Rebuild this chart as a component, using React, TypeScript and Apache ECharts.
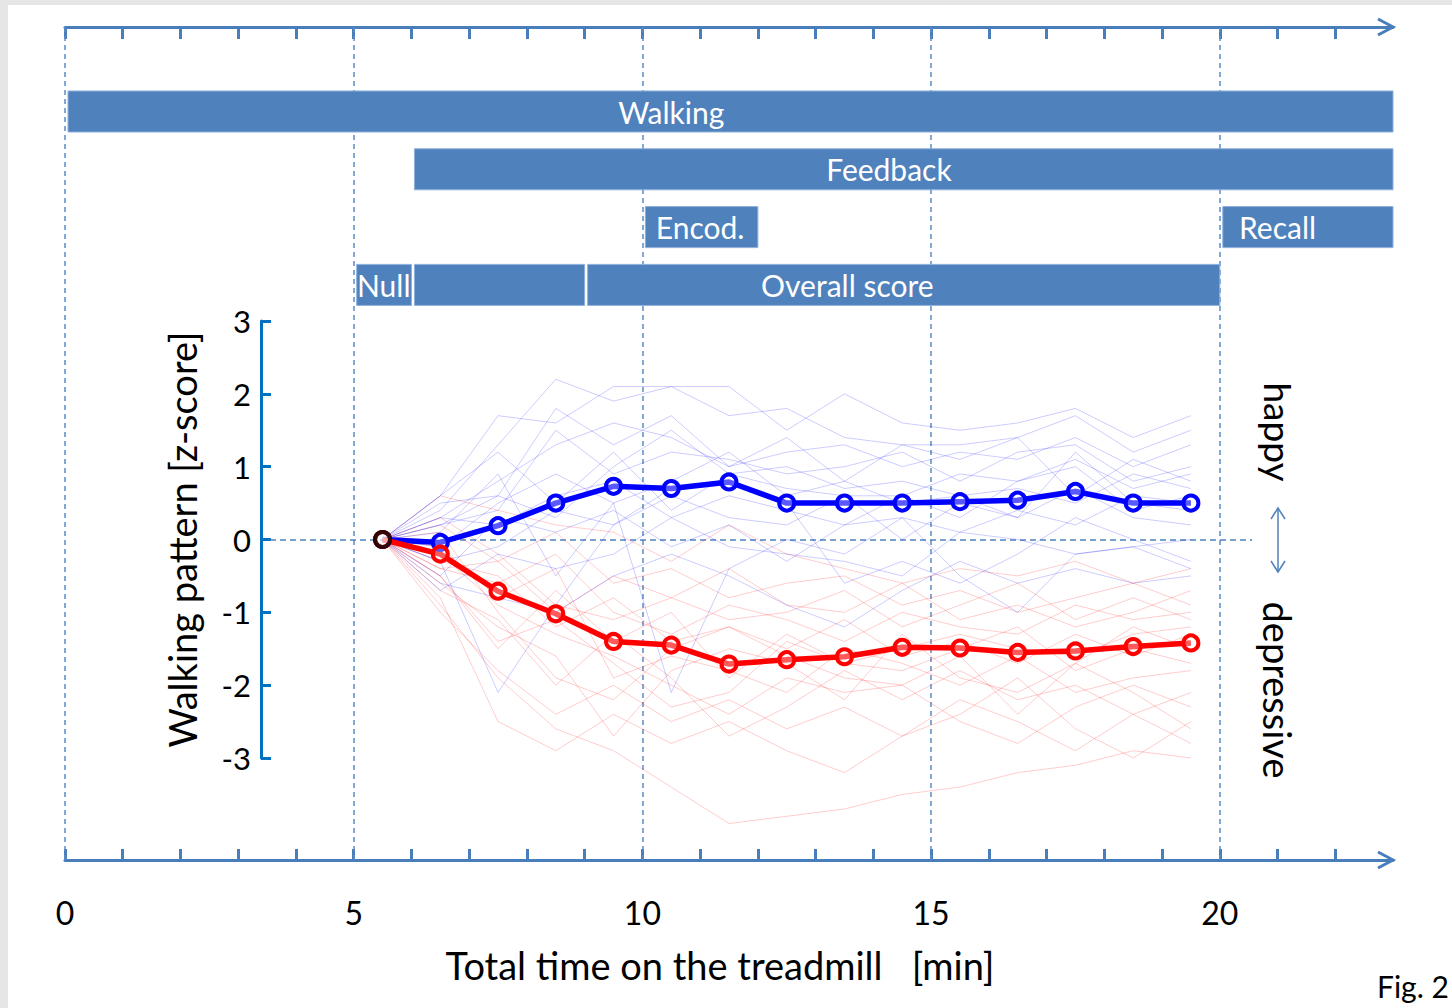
import React, { useEffect, useRef } from 'react';
import * as echarts from 'echarts';

const FONT = 'Lato, "Open Sans", sans-serif';
const AX = '#4a7ebb';
const YAX = '#0070c0';

// time points (minutes) of the z-score samples
const times = [5.5, 6.5, 7.5, 8.5, 9.5, 10.5, 11.5, 12.5, 13.5, 14.5, 15.5, 16.5, 17.5, 18.5, 19.5];

// group means
const blueMean = [0, -0.04, 0.19, 0.5, 0.73, 0.7, 0.79, 0.5, 0.5, 0.5, 0.52, 0.54, 0.66, 0.5, 0.5];
const redMean = [0, -0.2, -0.71, -1.02, -1.4, -1.45, -1.71, -1.65, -1.61, -1.48, -1.49, -1.55, -1.53, -1.47, -1.42];

// individual subjects (happy condition)
const blueSubjects = [
  [0, 0.4, 1.3, 2.2, 1.9, 2.1, 2.1, 1.5, 2.0, 1.6, 1.5, 1.6, 1.8, 1.4, 1.7],
  [0, 0.6, 1.7, 1.6, 2.1, 2.1, 1.7, 1.8, 1.4, 1.3, 1.3, 1.4, 1.7, 1.2, 1.5],
  [0, 0.3, 0.8, 1.3, 1.6, 1.4, 1.0, 1.2, 1.3, 1.0, 1.2, 1.1, 1.4, 1.0, 1.3],
  [0, 0.2, 0.4, 1.5, 0.9, 1.2, 1.1, 0.9, 1.0, 1.2, 0.8, 1.2, 1.3, 0.8, 1.0],
  [0, 0.5, 0.6, 0.3, 1.0, 1.5, 0.9, 0.7, 0.6, 0.6, 0.9, 0.8, 1.1, 0.7, 0.9],
  [0, -0.1, 0.5, 0.9, 0.5, 0.8, 1.2, 0.6, 0.8, 0.5, 0.6, 0.7, 0.5, 0.9, 0.7],
  [0, 0.3, 0.2, 0.6, 0.8, 0.3, 0.6, 0.4, 0.2, 0.6, 0.3, 0.8, 1.0, 0.4, 0.6],
  [0, -0.3, -0.1, 0.4, 0.2, 0.6, 0.3, 0.2, 0.6, 0.0, 0.5, 0.3, 0.7, 0.3, 0.2],
  [0, -0.5, 0.3, 0.1, 0.4, -0.1, 0.2, -0.3, 0.2, 0.3, 0.1, 0.4, 0.2, 0.6, 0.5],
  [0, -0.7, -0.2, -0.4, -0.2, 0.3, -0.1, -0.2, -0.3, -0.5, 0.1, 0.0, -0.2, -0.1, 0.0],
  [0, -0.3, -2.1, -0.9, 0.2, 0.7, 0.8, 0.5, -0.6, -0.3, -0.6, -0.2, 0.3, 0.0, -0.3],
  [0, 0.1, 0.9, -0.5, 0.5, -2.1, -0.4, 0.0, -0.2, 0.3, -0.5, -1.0, -0.2, -0.1, -0.4],
  [0, -0.6, -0.8, -1.0, -0.5, -0.2, -0.5, -0.9, -1.2, -0.7, -0.3, -0.6, -0.4, -0.6, -0.5],
  [0, 0.6, 1.2, 0.5, 1.2, 0.4, 0.9, 1.0, 0.7, 0.8, 0.6, 0.3, 1.2, 0.5, 0.4],
  [0, 0.2, 0.6, 1.8, 1.3, 1.7, 1.0, 1.4, 0.8, 1.3, 1.1, 1.4, 0.6, 1.1, 0.8],
];

// individual subjects (depressive condition)
const redSubjects = [
  [0, 0.6, 0.4, 0.2, 0.1, -0.3, 0.2, -0.2, -0.4, -0.6, -0.4, -0.5, -0.3, -0.6, -0.4],
  [0, 0.2, -0.3, 0.1, -0.6, -0.4, -0.8, -0.6, -0.5, -0.9, -0.7, -1.0, -0.8, -0.6, -0.9],
  [0, -0.4, -0.6, -0.2, -1.0, -1.3, -0.9, -1.1, -1.4, -1.0, -1.2, -1.3, -0.9, -1.1, -1.0],
  [0, -0.6, -1.2, -1.6, -2.7, -1.8, -1.5, -1.7, -2.2, -1.3, -1.9, -2.1, -1.7, -1.2, -1.5],
  [0, -1.0, -1.8, -2.4, -2.0, -2.5, -2.2, -2.6, -2.3, -2.7, -2.2, -2.5, -2.9, -2.4, -2.8],
  [0, -0.2, -0.9, -1.3, -1.6, -2.0, -2.4, -1.9, -2.1, -2.0, -2.5, -2.8, -2.3, -2.0, -2.3],
  [0, -0.8, -2.5, -2.9, -2.4, -2.8, -2.5, -2.9, -3.2, -2.7, -2.4, -1.9, -2.6, -3.0, -2.5],
  [0, -0.3, -0.5, -1.2, -0.8, -1.4, -1.2, -1.5, -1.1, -1.6, -1.4, -1.7, -1.3, -1.6, -1.3],
  [0, -0.5, -1.5, -0.7, -1.4, -1.0, -1.9, -1.3, -1.7, -1.8, -1.5, -1.2, -1.8, -1.5, -1.7],
  [0, -0.1, -0.8, -0.4, -1.9, -1.6, -1.8, -2.1, -1.5, -1.7, -2.0, -1.6, -2.1, -1.9, -1.8],
  [0, -0.7, -1.1, -2.0, -1.3, -1.9, -2.7, -2.3, -1.8, -2.2, -1.8, -2.2, -2.0, -2.4, -2.1],
  [0, 0.3, -0.2, -0.9, -1.1, -0.8, -1.1, -1.0, -0.7, -1.2, -0.9, -0.6, -1.1, -0.8, -1.1],
  [0, -0.9, -1.9, -2.6, -2.9, -3.4, -3.9, -3.8, -3.7, -3.5, -3.4, -3.2, -3.1, -2.9, -3.0],
  [0, -0.4, -0.3, -1.0, -0.5, -0.8, -0.4, -0.9, -1.0, -0.6, -1.1, -0.9, -1.2, -1.0, -0.7],
  [0, 0.1, -1.0, -1.9, -2.2, -1.5, -1.2, -1.6, -1.9, -2.0, -1.6, -2.4, -1.7, -2.1, -2.6],
  [0, -0.5, -1.4, -1.1, -1.7, -2.3, -2.1, -1.4, -1.7, -1.5, -1.3, -1.5, -1.6, -1.3, -1.2],
];

// timeline axis
const minuteTicks = [0, 1, 2, 3, 4, 5, 6, 7, 8, 9, 10, 11, 12, 13, 14, 15, 16, 17, 18, 19, 20, 21, 22];
const minuteLabels = [0, 5, 10, 15, 20];
const phaseMarks = [0, 5, 10, 15, 20];
const zeroLineFrom = 3.55;
const zeroLineTo = 20.56;

// protocol phases (bars)
const barNames = ['Walking', 'Feedback', 'Encod.', 'Recall', 'Null', '', 'Overall score'];
const barStart = [0, 6, 10, 20, 5, 6, 9];
const barEnd = [23, 23, 12, 23, 6, 9, 20];
const barRow = [0, 1, 2, 2, 3, 3, 3];
const barLabelAt = [10.5, 14.27, 11, 21, 5.52, 7.5, 13.55];

export default function App() {
  const ref = useRef<HTMLDivElement>(null);
  useEffect(() => {
    if (!ref.current) return;
    const chart = echarts.init(ref.current, undefined, { renderer: 'svg' });

    const thin = (vals: number[], color: string) => ({
      type: 'line',
      xAxisIndex: 3,
      yAxisIndex: 2,
      data: times.map((t, i) => [t, vals[i]]),
      symbol: 'none',
      showSymbol: false,
      clip: false,
      silent: true,
      z: 2,
      lineStyle: { color, width: 1 },
    });

    const mean = (vals: number[], color: string) => ({
      type: 'line',
      xAxisIndex: 3,
      yAxisIndex: 2,
      data: times.map((t, i) => [t, vals[i]]),
      symbol: 'circle',
      symbolSize: 15,
      showSymbol: true,
      clip: false,
      silent: true,
      z: 4,
      lineStyle: { color, width: 5.5 },
      itemStyle: { color: 'rgba(255,255,255,0.35)', borderColor: color, borderWidth: 4 },
    });

    const option: any = {
      animation: false,
      backgroundColor: '#ffffff',
      textStyle: { fontFamily: FONT },
      grid: [
        { left: 65, right: 59, top: 27, bottom: 148 },
        { left: 65, right: 59, top: 82.6, height: 231.2 },
        { left: 65, right: 59, top: 321, bottom: 250 },
      ],
      xAxis: [
        {
          gridIndex: 0, type: 'value', position: 'top', min: 0, max: 23,
          axisLine: { show: true, onZero: false, lineStyle: { color: AX, width: 3 } },
          axisTick: { show: true, inside: true, length: 12, customValues: minuteTicks, lineStyle: { color: AX, width: 3 } },
          axisLabel: { show: false },
          splitLine: { show: false },
        },
        {
          gridIndex: 0, type: 'value', position: 'bottom', min: 0, max: 23,
          axisLine: { show: true, onZero: false, lineStyle: { color: AX, width: 3 } },
          axisTick: { show: true, inside: true, length: 11, customValues: minuteTicks, lineStyle: { color: AX, width: 3 } },
          axisLabel: { show: true, customValues: minuteLabels, fontSize: 32, color: '#000', fontFamily: FONT, margin: 36 },
          splitLine: { show: false },
          name: 'Total time on the treadmill   [min]',
          nameLocation: 'middle',
          nameGap: 86,
          nameTextStyle: { fontSize: 38, color: '#000', fontFamily: FONT, padding: [0, 18, 0, 0] },
        },
        { gridIndex: 1, type: 'value', min: 0, max: 23, show: false },
        { gridIndex: 2, type: 'value', min: 0, max: 23, show: false },
      ],
      yAxis: [
        { gridIndex: 0, type: 'value', min: 0, max: 1, show: false },
        { gridIndex: 1, type: 'value', min: -0.5, max: 3.5, inverse: true, show: false },
        {
          gridIndex: 2, type: 'value', min: -3, max: 3, interval: 1, position: 'left', offset: -196,
          axisLine: { show: true, onZero: false, lineStyle: { color: YAX, width: 3 } },
          axisTick: { show: true, inside: true, length: 10, lineStyle: { color: YAX, width: 3 } },
          axisLabel: { fontSize: 31, color: '#000', fontFamily: FONT, margin: 10 },
          splitLine: { show: false },
          name: 'Walking pattern [z-score]',
          nameLocation: 'middle',
          nameGap: 60,
          nameTextStyle: { fontSize: 38, color: '#000', fontFamily: FONT, padding: [0, 0, 0, 0] },
        },
      ],
      series: [
        {
          type: 'line', xAxisIndex: 0, yAxisIndex: 0, data: [[0, 0]], symbol: 'none', silent: true,
          lineStyle: { opacity: 0 },
          markLine: {
            silent: true, symbol: 'none', z: 1, label: { show: false },
            lineStyle: { color: '#5b8cc8', type: [5, 4], width: 1.5 },
            data: phaseMarks.map((v) => ({ xAxis: v })),
          },
        },
        {
          type: 'line', xAxisIndex: 3, yAxisIndex: 2, data: [[times[0], 0]], symbol: 'none', silent: true,
          lineStyle: { opacity: 0 },
          markLine: {
            silent: true, symbol: 'none', z: 1, label: { show: false },
            lineStyle: { color: '#4f81bd', type: [6, 4], width: 1.5 },
            data: [[{ coord: [zeroLineFrom, 0] }, { coord: [zeroLineTo, 0] }]],
          },
        },
        {
          type: 'custom', xAxisIndex: 2, yAxisIndex: 1, z: 10, silent: true,
          data: barStart.map((s, i) => [s, barEnd[i], barRow[i], barLabelAt[i]]),
          encode: { x: [0, 1, 3], y: 2 },
          renderItem: (params: any, api: any) => {
            const row = api.value(2);
            const a = api.coord([api.value(0), row]);
            const b = api.coord([api.value(1), row]);
            const t = api.coord([api.value(3), row]);
            const h = api.size([0, 1])[1] * 0.71;
            const name = barNames[params.dataIndex];
            return {
              type: 'group',
              children: [
                {
                  type: 'rect',
                  shape: { x: a[0] + 3, y: a[1] - h / 2, width: b[0] - a[0] - 3, height: h },
                  style: { fill: '#4f81bd', stroke: '#8fb0dc', lineWidth: 1 },
                },
                {
                  type: 'text',
                  style: {
                    x: t[0], y: t[1], text: name, fill: '#ffffff', fontSize: 30,
                    fontFamily: FONT, align: 'center', verticalAlign: 'middle',
                  },
                },
              ],
            };
          },
        },
        ...redSubjects.map((v) => thin(v, 'rgba(255,0,0,0.2)')),
        ...blueSubjects.map((v) => thin(v, 'rgba(0,0,255,0.2)')),
        mean(blueMean, '#0000ff'),
        mean(redMean, '#ff0000'),
        {
          type: 'scatter', xAxisIndex: 3, yAxisIndex: 2, silent: true, z: 6,
          data: [[times[0], blueMean[0]]],
          symbolSize: 15,
          itemStyle: { color: 'rgba(255,255,255,0.25)', borderColor: '#000000', borderWidth: 4 },
        },
      ],
      graphic: [
        { type: 'rect', silent: true, shape: { x: 0, y: 0, width: 1452, height: 5 }, style: { fill: '#e6e6e6' } },
        { type: 'rect', silent: true, shape: { x: 0, y: 0, width: 8, height: 1008 }, style: { fill: '#e6e6e6' } },
        { type: 'polyline', silent: true, shape: { points: [[1378, 19], [1393, 27], [1378, 35]] }, style: { stroke: AX, lineWidth: 3, fill: null } },
        { type: 'polyline', silent: true, shape: { points: [[1378, 852], [1393, 860], [1378, 868]] }, style: { stroke: AX, lineWidth: 3, fill: null } },
        {
          type: 'text', silent: true, x: 1278, y: 432, rotation: -Math.PI / 2,
          style: { text: 'happy', fontSize: 37, fontFamily: FONT, fill: '#000', align: 'center', verticalAlign: 'middle' },
        },
        {
          type: 'text', silent: true, x: 1278, y: 690, rotation: -Math.PI / 2,
          style: { text: 'depressive', fontSize: 38, fontFamily: FONT, fill: '#000', align: 'center', verticalAlign: 'middle' },
        },
        { type: 'line', silent: true, shape: { x1: 1278, y1: 508, x2: 1278, y2: 572 }, style: { stroke: '#4f81bd', lineWidth: 1.5 } },
        { type: 'polyline', silent: true, shape: { points: [[1271, 519], [1278, 508], [1285, 519]] }, style: { stroke: '#4f81bd', lineWidth: 1.5, fill: null } },
        { type: 'polyline', silent: true, shape: { points: [[1271, 561], [1278, 572], [1285, 561]] }, style: { stroke: '#4f81bd', lineWidth: 1.5, fill: null } },
        {
          type: 'text', silent: true, x: 1377, y: 986,
          style: { text: 'Fig. 2', fontSize: 30, fontFamily: FONT, fill: '#000', align: 'left', verticalAlign: 'middle' },
        },
      ],
    };
    chart.setOption(option);
    return () => chart.dispose();
  }, []);

  return (
    <div
      ref={ref}
      style={{ position: 'absolute', left: 0, top: 0, width: 1452, height: 1008, background: '#fff' }}
    />
  );
}
